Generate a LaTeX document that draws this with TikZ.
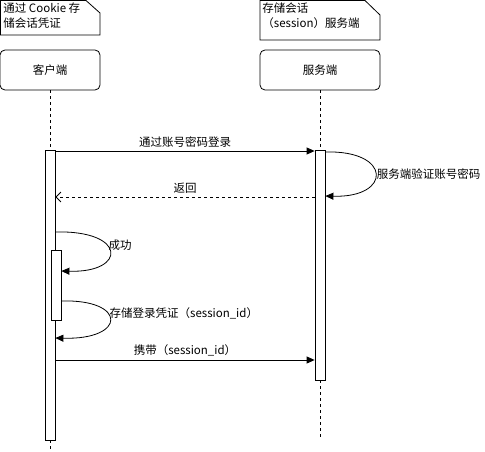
\documentclass[tikz,border=0pt]{standalone}
\usepackage{fontspec}
\setmainfont{Noto Sans CJK SC}
\usetikzlibrary{arrows.meta, positioning, calc}

\begin{document}
\begin{tikzpicture}[x=1pt, y=-1pt, line width=0.8pt, font=\fontsize{11.5}{15}\selectfont,
    actor/.style={draw, rounded corners=5pt, minimum width=100pt, minimum height=40pt},
    bar/.style={draw, fill=white, minimum width=10pt, inner sep=0pt},
    life/.style={dashed},
    msg/.style={-{Triangle[length=8pt,width=7pt]}},
    reply/.style={dashed, -{Straight Barb[length=5pt,width=10pt]}},
    memo/.style={anchor=north west, align=left, inner sep=0pt}]
    \useasboundingbox (0,0) rectangle (485,452);

    \draw (0.5,0.5) -- (86,0.5) -- (100,13) -- (100,35) -- (0.5,35) -- cycle;
    \node[memo] (note1) at (3,2) {通过 Cookie 存\\储会话凭证};
    \draw (260,0.5) -- (365,0.5) -- (380,15) -- (380,40) -- (260,40) -- cycle;
    \node[memo] (note2) at (262,2) {存储会话\\（session）服务端};

    \node[actor] (client) at (50,70) {客户端};
    \node[actor, minimum width=120pt] (server) at (320,70) {服务端};

    \node[bar, minimum height=290pt] (cbar) at (50,295) {};
    \node[bar, minimum height=230pt] (sbar) at (320,265) {};
    \node[bar, minimum height=70pt] (cbar2) at (56,285) {};
    \coordinate (cend) at (50,452);
    \coordinate (send) at (320,440);

    \draw[life] (client) -- (cbar) (cbar) -- (cend);
    \draw[life] (server) -- (sbar) (sbar) -- (send);

    \draw[msg] (cbar.east |- 0,151) -- node[above] {通过账号密码登录} (sbar.west |- 0,151);
    \draw[msg] (sbar.east |- 0,152) .. controls (392,150) and (392,198) .. node[right, inner sep=1pt] {服务端验证账号密码} (sbar.east |- 0,196);
    \draw[reply] (sbar.west |- 0,197) -- node[above] {返回} (cbar.east |- 0,197);
    \draw[msg] (cbar.east |- 0,232) .. controls (127,230) and (127,273) .. node[right, pos=0.4, inner sep=1pt] {成功} (cbar2.east |- 0,271);
    \draw[msg] (cbar2.east |- 0,301) .. controls (127,299) and (127,340) .. node[right, pos=0.4, inner sep=1pt] {存储登录凭证（session\_id）} (cbar.east |- 0,338);
    \draw[msg] (cbar.east |- 0,360) -- node[above] {携带（session\_id）} (sbar.west |- 0,360);
\end{tikzpicture}
\end{document}
